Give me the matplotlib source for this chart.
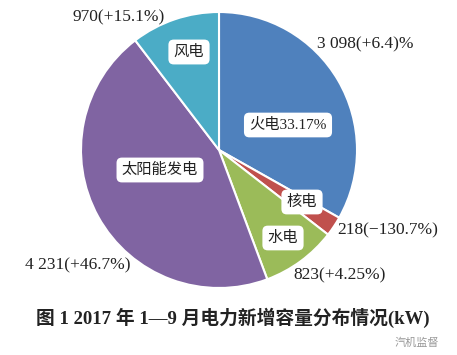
import matplotlib.pyplot as plt

plt.rcParams['font.family'] = ['Liberation Serif', 'Noto Sans CJK SC', 'DejaVu Sans']

names = ['火电', '核电', '水电', '太阳能发电', '风电']
values = [3098, 218, 823, 4231, 970]
outer = ['3 098(+6.4)%', '218(\u2212130.7%)', '823(+4.25%)', '4 231(+46.7%)', '970(+15.1%)']
inner = ['火电33.17%', '核电', '水电', '太阳能发电', '风电']
colors = ['#4F81BD', '#C0504D', '#9BBB59', '#8064A2', '#4BACC6']

H = 355
fig = plt.figure(figsize=(4.57, 3.55), dpi=100)
ax = fig.add_axes([0, 0, 1, 1])

ax.pie(values, colors=colors, startangle=90, counterclock=False,
       center=(219, H - 150), radius=138,
       wedgeprops=dict(edgecolor='white', linewidth=1.5))

# pie resets the limits, so set them afterwards
ax.set_xlim(0, 457)
ax.set_ylim(0, H)
ax.set_aspect('equal')
ax.axis('off')

# label positions in pixels (x, y from top)
inner_pos = [(288, 125), (302, 202), (283, 238), (160, 170), (189, 52)]
outer_pos = [(365, 44), (388, 230), (340, 275), (78, 265), (119, 17)]

for t, (x, y) in zip(inner, inner_pos):
    ax.text(x, H - y, t, ha='center', va='center', fontsize=11, color='#222222',
            bbox=dict(boxstyle='round,pad=0.35', fc='white', ec='none'))
for t, (x, y) in zip(outer, outer_pos):
    ax.text(x, H - y, t, ha='center', va='center', fontsize=12.5, color='#222222')

ax.text(233, H - 318, '图 1 2017 年 1—9 月电力新增容量分布情况(kW)', ha='center', va='center',
        fontsize=13.5, fontweight='bold', color='#222222')
ax.text(417, H - 343, '汽机监督', ha='center', va='center', fontsize=8, color='#999999')

fig.savefig('out.png', dpi=100)
